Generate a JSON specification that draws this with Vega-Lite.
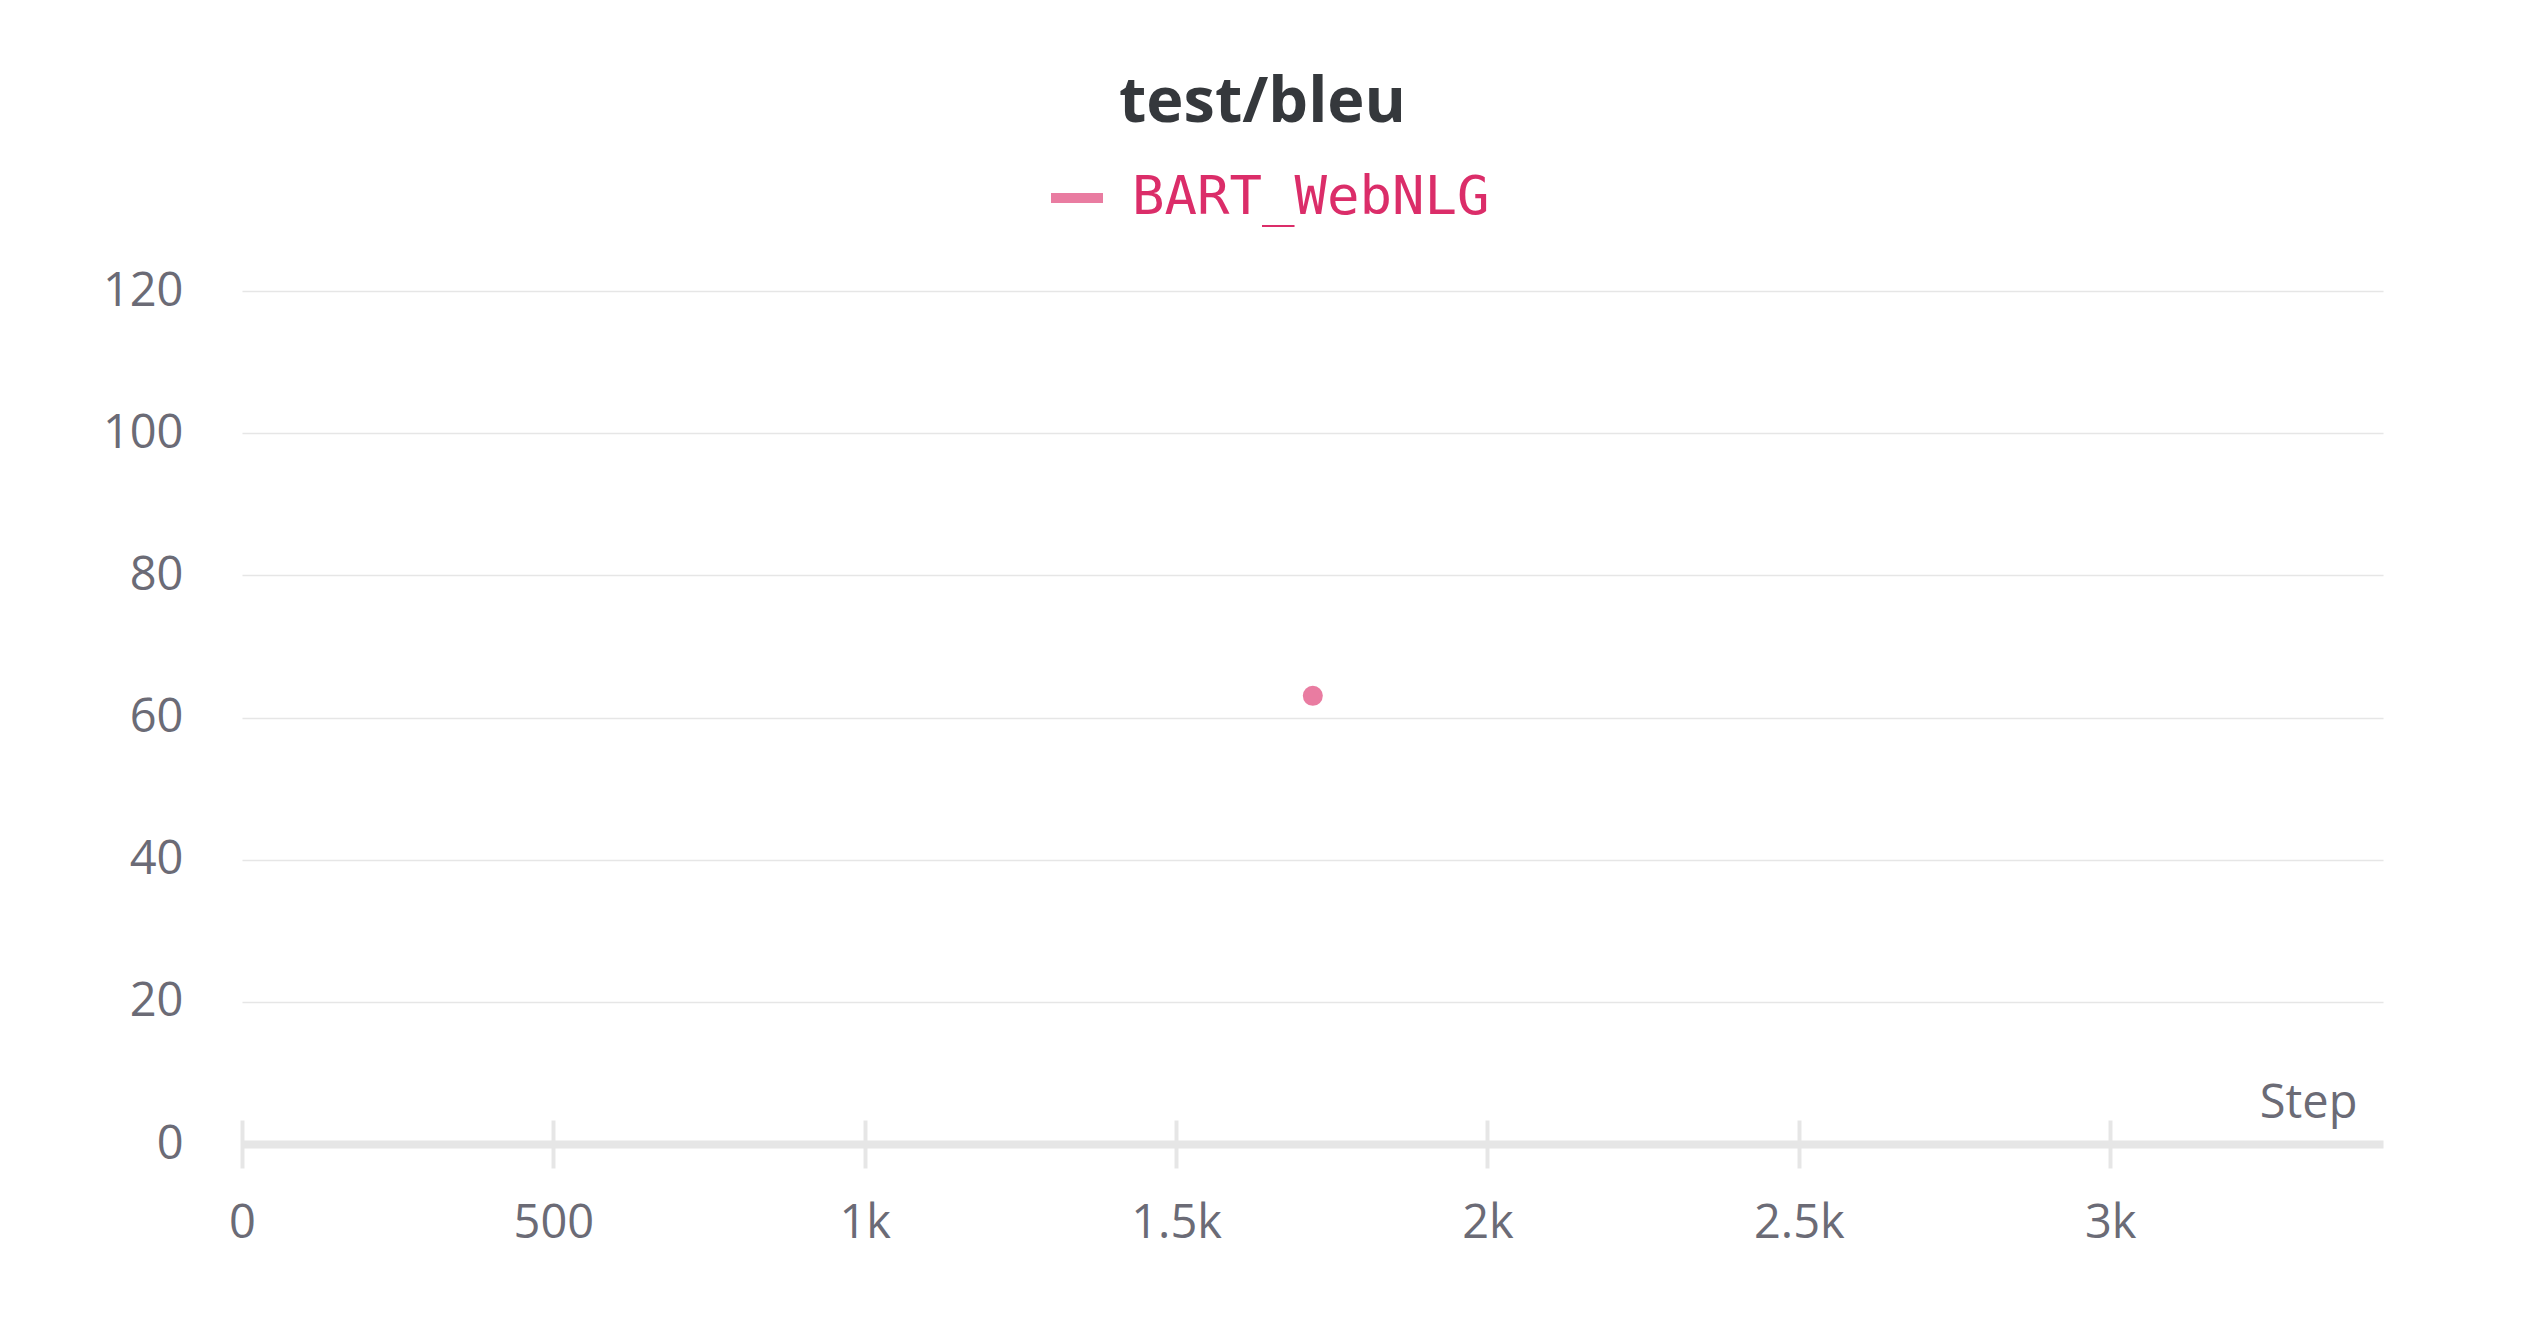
{
  "$schema": "https://vega.github.io/schema/vega-lite/v6.json",
  "autosize": "none",
  "width": 2141,
  "height": 853,
  "padding": {"left": 242, "top": 291, "right": 145, "bottom": 184},
  "background": "white",
  "data": {"values": [{"Step": 1719.5, "bleu": 63.05, "run": "BART_WebNLG"}]},
  "title": {
    "text": "test/bleu",
    "font": "Open Sans",
    "fontSize": 63,
    "fontWeight": "bold",
    "color": "#35383c",
    "anchor": "middle",
    "frame": "group",
    "dx": -50,
    "baseline": "alphabetic",
    "offset": -18
  },
  "mark": {"type": "circle", "size": 400, "opacity": 1},
  "encoding": {
    "x": {
      "field": "Step",
      "type": "quantitative",
      "scale": {"domain": [0, 3438], "nice": false, "zero": false},
      "axis": {
        "values": [0, 500, 1000, 1500, 2000, 2500, 3000],
        "labelExpr": "datum.value >= 1000 ? format(datum.value / 1000, '~g') + 'k' : format(datum.value, 'd')",
        "domain": false,
        "grid": false,
        "ticks": true,
        "tickSize": 48,
        "tickWidth": 4,
        "tickColor": "#e6e6e6",
        "offset": -24,
        "labelFont": "Open Sans",
        "labelFontSize": 47,
        "labelColor": "#6b6b76",
        "labelPadding": 32,
        "labelFlush": false,
        "title": "Step",
        "titleFont": "Open Sans",
        "titleFontSize": 47,
        "titleFontWeight": "normal",
        "titleColor": "#6b6b76",
        "titleAlign": "right",
        "titleBaseline": "alphabetic",
        "titleX": 2115,
        "titleY": -3
      }
    },
    "y": {
      "field": "bleu",
      "type": "quantitative",
      "scale": {"domain": [0, 120], "nice": false},
      "axis": {
        "values": [0, 20, 40, 60, 80, 100, 120],
        "domain": false,
        "ticks": false,
        "grid": true,
        "gridColor": "#e6e6e6",
        "gridWidth": {"condition": {"test": "datum.value === 0", "value": 8}, "value": 1.5},
        "labelFont": "Open Sans",
        "labelFontSize": 47,
        "labelColor": "#6b6b76",
        "labelPadding": 59,
        "labelFlush": false,
        "title": null
      }
    },
    "color": {
      "field": "run",
      "type": "nominal",
      "scale": {"range": ["#e97ca1"]},
      "legend": {
        "title": null,
        "orient": "none",
        "legendX": 804,
        "legendY": -124,
        "padding": 0,
        "symbolType": "stroke",
        "symbolSize": 2704,
        "symbolStrokeWidth": 10,
        "symbolStrokeColor": "#e97ca1",
        "symbolFillColor": "#e97ca1",
        "symbolOpacity": 1,
        "labelFont": "DejaVu Sans Mono",
        "labelFontSize": 54,
        "labelColor": "#db2d69",
        "labelOffset": 24,
        "labelLimit": 1000
      }
    }
  },
  "config": {"view": {"stroke": null}}
}
